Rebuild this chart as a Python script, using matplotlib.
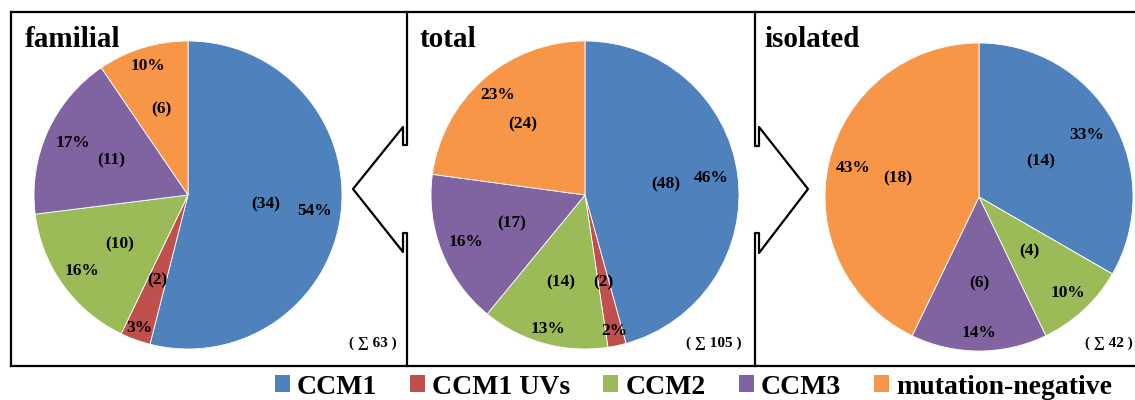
import matplotlib.pyplot as plt
from matplotlib.patches import Patch
import numpy as np

# data
groups = ['CCM1', 'CCM1 UVs', 'CCM2', 'CCM3', 'mutation-negative']
colors = ['#4F81BD', '#C0504D', '#9BBB59', '#8064A2', '#F79646']
familial = [34, 2, 10, 11, 6]
total = [48, 2, 14, 17, 24]
isolated = [14, 0, 4, 6, 18]
panel_titles = ['familial', 'total', 'isolated']

# label placement (fraction of radius) for count and percent labels
count_r = [[0.51, 0.59, 0.55, 0.55, 0.58],
           [0.53, 0.58, 0.59, 0.51, 0.61],
           [0.46, 0.5, 0.48, 0.56, 0.54]]
pct_r = [[0.83, 0.92, 0.85, 0.82, 0.88],
         [0.83, 0.9, 0.9, 0.83, 0.86],
         [0.81, 0.85, 0.85, 0.88, 0.84]]

W, H = 1135, 400
serif = ['Liberation Serif', 'DejaVu Serif']
plt.rcParams['font.family'] = serif

fig = plt.figure(figsize=(W / 100, H / 100), dpi=100)

# overlay in pixel coords for the frame and the arrows
bg = fig.add_axes([0, 0, 1, 1])
bg.set_xlim(0, W)
bg.set_ylim(H, 0)
bg.axis('off')
lw = 1.6
bg.plot([11, 1140], [12, 12], color='k', lw=lw)
bg.plot([11, 1140], [366, 366], color='k', lw=lw)
bg.plot([11, 11], [12, 366], color='k', lw=lw)
bg.plot([407, 407, 403, 403, 353, 403, 403, 407, 407],
        [12, 145, 145, 127, 189, 252, 233, 233, 366], color='k', lw=lw)
bg.plot([755, 755, 759, 759, 808, 759, 759, 755, 755],
        [12, 146, 146, 127, 189, 253, 233, 233, 366], color='k', lw=lw)

centers = [(188, 195), (585, 195), (979, 197)]
title_x = [25, 420, 764]
sum_x = [397, 742, 1133]
r = 154

for i, (vals, (cx, cy), title, tx, sx) in enumerate(
        zip([familial, total, isolated], centers, panel_titles, title_x, sum_x)):
    ax = fig.add_axes([(cx - r) / W, (H - cy - r) / H, 2 * r / W, 2 * r / H])
    wedges, _ = ax.pie(vals, colors=colors, startangle=90, counterclock=False,
                       radius=1, wedgeprops=dict(edgecolor='white', linewidth=0.6))
    ax.set_xlim(-1, 1)
    ax.set_ylim(-1, 1)
    ax.set_aspect('equal')
    n = sum(vals)
    for j, (w, v) in enumerate(zip(wedges, vals)):
        if v == 0:
            continue
        mid = np.deg2rad((w.theta1 + w.theta2) / 2)
        rc, rp = count_r[i][j], pct_r[i][j]
        ax.text(rc * np.cos(mid), rc * np.sin(mid), f'({v})',
                ha='center', va='center', fontsize=12.5, fontweight='bold')
        ax.text(rp * np.cos(mid), rp * np.sin(mid), f'{round(100 * v / n)}%',
                ha='center', va='center', fontsize=12.5, fontweight='bold')
    fig.text(tx / W, 1 - 47 / H, title, fontsize=21, fontweight='bold',
             ha='left', va='baseline')
    fig.text(sx / W, 1 - 343 / H, f'( \u2211 {n} )', fontsize=11, fontweight='bold',
             ha='right', va='center')

handles = [Patch(facecolor=c, edgecolor='none') for c in colors]
fig.legend(handles, groups, loc='center left', bbox_to_anchor=(275 / W, 1 - 387 / H),
           ncol=5, frameon=False, prop=dict(family=serif, weight='bold', size=20),
           handlelength=0.54, handleheight=0.54, handletextpad=0.25, columnspacing=1.19,
           borderpad=0, borderaxespad=0)

fig.savefig('out.png', dpi=100)
